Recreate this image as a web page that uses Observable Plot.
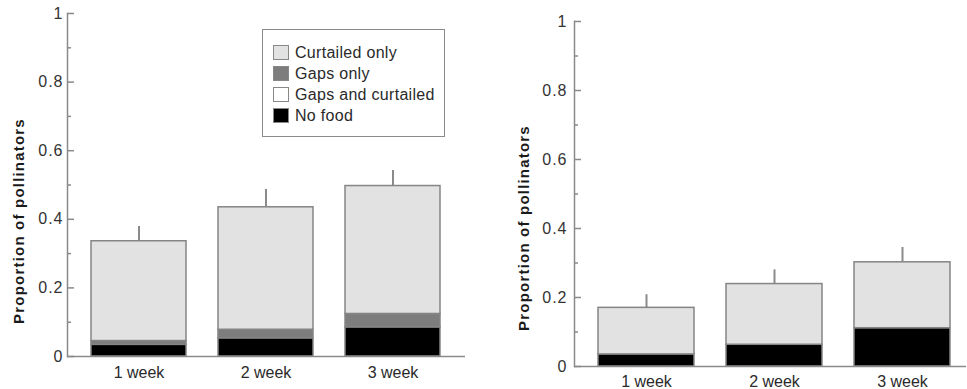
<!DOCTYPE html>
<html>
<head>
<meta charset="utf-8">
<script src="https://cdn.jsdelivr.net/npm/d3@7"></script>
<script src="https://cdn.jsdelivr.net/npm/@observablehq/plot@0.6"></script>
<style>
  body { margin: 0; background: #fff; }
  #wrap { position: relative; width: 967px; height: 389px; overflow: hidden;
          font-family: "Liberation Sans", Arial, Helvetica, sans-serif; }
  #left { position: absolute; left: 0; top: 0; }
  #right { position: absolute; left: 480px; top: 0; }
  .legend { position: absolute; left: 262px; top: 29px; width: 183px; height: 108px;
            box-sizing: border-box; border: 1.5px solid #8a8a8a; background: #fff;
            padding: 12px 0 0 10px; }
  .legend .row { display: flex; align-items: center; height: 21px; font-size: 16px;
                 color: #2a2a2a; letter-spacing: 0.3px; white-space: nowrap; }
  .legend .sw { width: 16px; height: 15px; box-sizing: border-box; border: 1px solid #888;
                margin-right: 6px; flex: none; }
</style>
</head>
<body>
<div id="wrap">
  <div id="left"></div>
  <div id="right"></div>
</div>
<script>
// ---- data ----
const weeks = ["1 week", "2 week", "3 week"];
const stackOrder = ["No food", "Gaps and curtailed", "Gaps only", "Curtailed only"]; // bottom -> top
const legendOrder = ["Curtailed only", "Gaps only", "Gaps and curtailed", "No food"];
const legendColors = ["#e2e2e2", "#7d7d7d", "#ffffff", "#000000"];
const yLabel = "Proportion of pollinators";
const yMajor = [0, 0.2, 0.4, 0.6, 0.8, 1];
const yMinor = [0.1, 0.3, 0.5, 0.7, 0.9];

// left panel
const aNoFood        = [0.034, 0.053, 0.085];
const aGapsCurtailed = [0, 0, 0];
const aGapsOnly      = [0.011, 0.025, 0.039];
const aCurtailedOnly = [0.291, 0.357, 0.373];
const aErrTop        = [0.379, 0.487, 0.542];

// right panel
const bNoFood        = [0.035, 0.063, 0.111];
const bGapsCurtailed = [0, 0, 0];
const bGapsOnly      = [0, 0, 0];
const bCurtailedOnly = [0.135, 0.176, 0.191];
const bErrTop        = [0.208, 0.280, 0.345];

function panel(series, errTop, o) {
  const rows = [];
  weeks.forEach((w, i) => {
    stackOrder.forEach((c, j) => {
      const v = series[j][i];
      if (v > 0) rows.push({week: w, cat: c, value: v});
    });
  });
  const tops = weeks.map((w, i) => ({
    week: w,
    top: series.reduce((s, arr) => s + arr[i], 0),
    err: errTop[i]
  }));
  const axisColor = "#8a8a8a";
  const svg = Plot.plot({
    width: o.width, height: 389,
    marginLeft: o.marginLeft, marginRight: o.marginRight,
    marginTop: o.marginTop, marginBottom: o.marginBottom,
    x: {domain: weeks, paddingInner: 0.25, paddingOuter: o.paddingOuter, align: o.align},
    y: {domain: [0, 1]},
    color: {domain: legendOrder, range: legendColors},
    style: {fontFamily: '"Liberation Sans", Arial, Helvetica, sans-serif', fontSize: "16px", color: "#333", background: "transparent"},
    marks: [
      Plot.ruleX(tops, {x: "week", y1: "top", y2: "err", stroke: axisColor, strokeWidth: 2}),
      Plot.barY(rows, {x: "week", y: "value", fill: "cat", order: stackOrder, stroke: "#858585", strokeWidth: 1.5}),
      Plot.frame({anchor: "left", stroke: axisColor, strokeWidth: 1.5}),
      Plot.ruleY([0], {stroke: axisColor, strokeWidth: 1.5}),
      Plot.axisY(yMajor, {tickSize: 0, tickPadding: o.tickPadY, tickFormat: d => String(d), label: null, color: "#333", fontSize: 16}),
      Plot.axisY(yMajor, {tickSize: -7, text: null, label: null, color: axisColor, strokeWidth: 1.5}),
      Plot.axisY(yMinor, {tickSize: -4, text: null, label: null, color: axisColor, strokeWidth: 1.5}),
      Plot.axisX({tickSize: 0, tickPadding: o.tickPadX, label: null, color: "#2a2a2a", fontSize: 16}),
      Plot.text([yLabel], {frameAnchor: "left", textAnchor: "middle", lineAnchor: "middle", rotate: -90,
        dx: o.labelDx, dy: o.labelDy, fontWeight: "bold", fontSize: 15, fill: "#1a1a1a"})
    ]
  });
  // slight tracking to match the reference's wide lettering
  d3.select(svg).selectAll('g[aria-label="y-axis tick label"] text').style("letter-spacing", "1px");
  d3.select(svg).selectAll('g[aria-label="text"] text').style("letter-spacing", "1.2px");
  return svg;
}

const left = panel([aNoFood, aGapsCurtailed, aGapsOnly, aCurtailedOnly], aErrTop, {
  width: 480, marginLeft: 67, marginRight: 15, marginTop: 13, marginBottom: 33,
  paddingOuter: 0.18, align: 0.5, tickPadY: 4, tickPadX: 10, labelDx: -48, labelDy: 36
});
document.getElementById("left").appendChild(left);

const right = panel([bNoFood, bGapsCurtailed, bGapsOnly, bCurtailedOnly], bErrTop, {
  width: 487, marginLeft: 94, marginRight: 1, marginTop: 21, marginBottom: 23,
  paddingOuter: 0.146, align: 0.6, tickPadY: 7, tickPadX: 9, labelDx: -50, labelDy: 34
});
document.getElementById("right").appendChild(right);

// legend (inside left panel)
const lg = document.createElement("div");
lg.className = "legend";
legendOrder.forEach((name, i) => {
  const row = document.createElement("div");
  row.className = "row";
  const sw = document.createElement("span");
  sw.className = "sw";
  sw.style.background = legendColors[i];
  const t = document.createElement("span");
  t.textContent = name;
  row.appendChild(sw);
  row.appendChild(t);
  lg.appendChild(row);
});
document.getElementById("wrap").appendChild(lg);
</script>
</body>
</html>
